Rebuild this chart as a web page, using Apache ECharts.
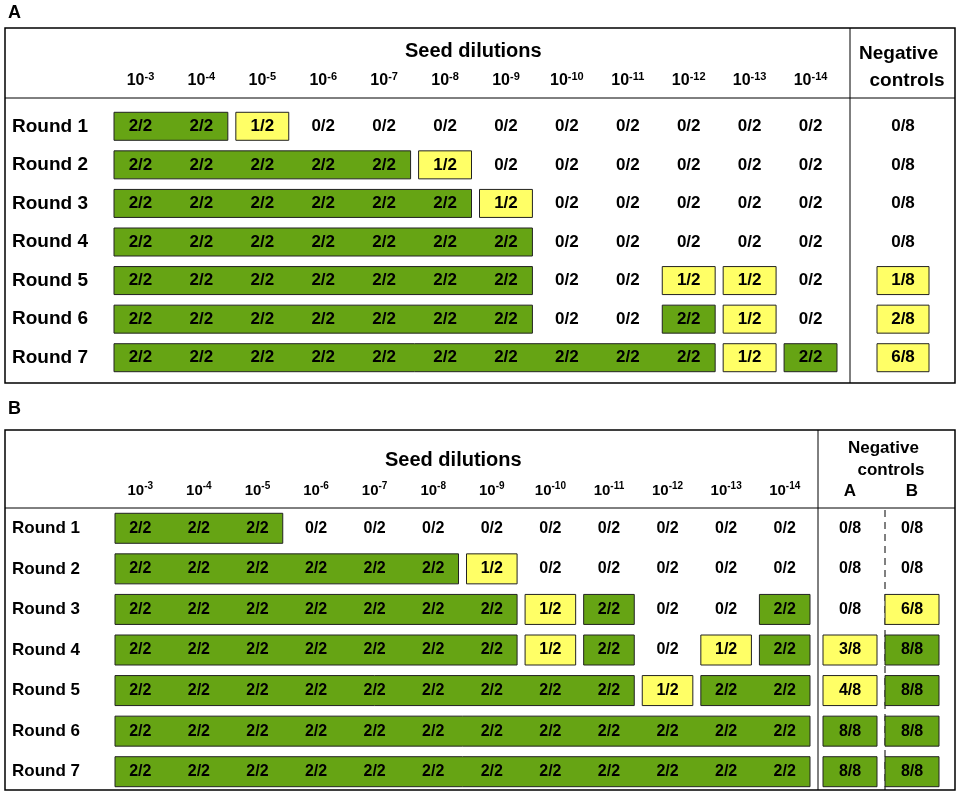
<!DOCTYPE html>
<html lang="en">
<head>
<meta charset="UTF-8">
<title>Seed dilutions</title>
<script src="https://cdn.jsdelivr.net/npm/echarts@6/dist/echarts.min.js"></script>
<style>
  html, body { margin: 0; padding: 0; background: #fff; }
  #chart { width: 961px; height: 800px; }
</style>
</head>
<body>
<div id="chart"></div>
<script>
const dilutions = ['-3','-4','-5','-6','-7','-8','-9','-10','-11','-12','-13','-14'];
const rounds = ['Round 1','Round 2','Round 3','Round 4','Round 5','Round 6','Round 7'];

// panel A: results per round (12 dilutions)
const valuesA = [
  ['2/2','2/2','1/2','0/2','0/2','0/2','0/2','0/2','0/2','0/2','0/2','0/2'],
  ['2/2','2/2','2/2','2/2','2/2','1/2','0/2','0/2','0/2','0/2','0/2','0/2'],
  ['2/2','2/2','2/2','2/2','2/2','2/2','1/2','0/2','0/2','0/2','0/2','0/2'],
  ['2/2','2/2','2/2','2/2','2/2','2/2','2/2','0/2','0/2','0/2','0/2','0/2'],
  ['2/2','2/2','2/2','2/2','2/2','2/2','2/2','0/2','0/2','1/2','1/2','0/2'],
  ['2/2','2/2','2/2','2/2','2/2','2/2','2/2','0/2','0/2','2/2','1/2','0/2'],
  ['2/2','2/2','2/2','2/2','2/2','2/2','2/2','2/2','2/2','2/2','1/2','2/2']
];
// boxes: [row, fromCol, toCol, kind] kind 0 = green, 1 = yellow
const boxesA = [
  [0,0,1,0],[0,2,2,1],
  [1,0,4,0],[1,5,5,1],
  [2,0,5,0],[2,6,6,1],
  [3,0,6,0],
  [4,0,6,0],[4,9,9,1],[4,10,10,1],
  [5,0,6,0],[5,9,9,0],[5,10,10,1],
  [6,0,9,0],[6,10,10,1],[6,11,11,0]
];
const negA = ['0/8','0/8','0/8','0/8','1/8','2/8','6/8'];
const negBoxesA = [[4,0,0,1],[5,0,0,1],[6,0,0,1]];

// panel B
const valuesB = [
  ['2/2','2/2','2/2','0/2','0/2','0/2','0/2','0/2','0/2','0/2','0/2','0/2'],
  ['2/2','2/2','2/2','2/2','2/2','2/2','1/2','0/2','0/2','0/2','0/2','0/2'],
  ['2/2','2/2','2/2','2/2','2/2','2/2','2/2','1/2','2/2','0/2','0/2','2/2'],
  ['2/2','2/2','2/2','2/2','2/2','2/2','2/2','1/2','2/2','0/2','1/2','2/2'],
  ['2/2','2/2','2/2','2/2','2/2','2/2','2/2','2/2','2/2','1/2','2/2','2/2'],
  ['2/2','2/2','2/2','2/2','2/2','2/2','2/2','2/2','2/2','2/2','2/2','2/2'],
  ['2/2','2/2','2/2','2/2','2/2','2/2','2/2','2/2','2/2','2/2','2/2','2/2']
];
const boxesB = [
  [0,0,2,0],
  [1,0,5,0],[1,6,6,1],
  [2,0,6,0],[2,7,7,1],[2,8,8,0],[2,11,11,0],
  [3,0,6,0],[3,7,7,1],[3,8,8,0],[3,10,10,1],[3,11,11,0],
  [4,0,8,0],[4,9,9,1],[4,10,11,0],
  [5,0,11,0],
  [6,0,11,0]
];
const negColsB = ['A','B'];
const negB = [
  ['0/8','0/8'],['0/8','0/8'],['0/8','6/8'],['3/8','8/8'],['4/8','8/8'],['8/8','8/8'],['8/8','8/8']
];
const negBoxesB = [
  [2,1,1,1],[3,0,0,1],[3,1,1,0],[4,0,0,1],[4,1,1,0],[5,0,0,0],[5,1,1,0],[6,0,0,0],[6,1,1,0]
];

const GREEN = '#66a414', YELLOW = '#ffff66';
const FONT = 'Liberation Sans, Arial, sans-serif';

function boxSeries(idx, data, h) {
  return {
    type: 'custom', xAxisIndex: idx, yAxisIndex: idx, data: data,
    encode: { x: [1, 2], y: 0 },
    renderItem: function (params, api) {
      const r = api.value(0), a = api.value(1), b = api.value(2);
      const p1 = api.coord([a, r]), p2 = api.coord([b, r]);
      const cw = api.size([1, 1])[0];
      const gap = Math.min(4, cw * 0.07);
      return {
        type: 'rect',
        shape: { x: p1[0] - cw / 2 + gap, y: p1[1] - h / 2, width: p2[0] - p1[0] + cw - 2 * gap, height: h },
        style: { fill: api.value(3) ? YELLOW : GREEN, stroke: '#222', lineWidth: 1 }
      };
    },
    z: 1
  };
}
function textSeries(idx, values, size) {
  const data = [];
  values.forEach((row, r) => {
    if (Array.isArray(row)) row.forEach((v, c) => data.push([c, r, v]));
    else data.push([0, r, row]);
  });
  return {
    type: 'scatter', xAxisIndex: idx, yAxisIndex: idx, data: data, symbolSize: 0,
    itemStyle: { opacity: 1 },
    label: { show: true, position: 'inside', formatter: p => p.data[2],
      fontFamily: FONT, fontWeight: 'bold', fontSize: size, color: '#000',
      textBorderWidth: 0, opacity: 1 },
    z: 3, silent: true
  };
}
function xAx(idx, cats, size, margin, sup) {
  return {
    type: 'category', gridIndex: idx, data: cats, position: 'top',
    axisLine: { show: false }, axisTick: { show: false },
    axisLabel: {
      margin: margin, interval: 0,
      formatter: sup ? (v => '{b|10}{s|' + v + '}') : (v => '{b|' + v + '}'),
      rich: {
        b: { fontFamily: FONT, fontWeight: 'bold', fontSize: size, color: '#000' },
        s: { fontFamily: FONT, fontWeight: 'bold', fontSize: size - 5, color: '#000', padding: [0, 0, 9, 0] }
      }
    }
  };
}
function yAx(idx, show, size, margin) {
  return {
    type: 'category', gridIndex: idx, data: rounds, inverse: true,
    axisLine: { show: false }, axisTick: { show: false },
    axisLabel: { show: show, align: 'left', margin: margin, fontFamily: FONT,
      fontWeight: 'bold', fontSize: size, color: '#000' }
  };
}
function ln(x1, y1, x2, y2, dash) {
  return { type: 'line', shape: { x1: x1, y1: y1, x2: x2, y2: y2 },
    style: { stroke: '#000', lineWidth: 1, lineDash: dash ? [7, 5] : null } };
}

const option = {
  animation: false,
  grid: [
    { left: 110, width: 731, top: 107, height: 270 },
    { left: 873, width: 60, top: 107, height: 270 },
    { left: 111, width: 703, top: 508, height: 284 },
    { left: 819, width: 124, top: 508, height: 284 }
  ],
  xAxis: [
    xAx(0, dilutions, 16, 16, true),
    xAx(1, [''], 16, 16, false),
    xAx(2, dilutions, 15, 8, true),
    xAx(3, negColsB, 17, 8, false)
  ],
  yAxis: [yAx(0, true, 19, 98), yAx(1, false), yAx(2, true, 17, 99), yAx(3, false)],
  series: [
    boxSeries(0, boxesA, 28), textSeries(0, valuesA, 17),
    boxSeries(1, negBoxesA, 28), textSeries(1, negA, 17),
    boxSeries(2, boxesB, 30), textSeries(2, valuesB, 16),
    boxSeries(3, negBoxesB, 30), textSeries(3, negB, 16)
  ],
  graphic: [
    { type: 'text', left: 8, top: 4, style: { text: 'A', fontFamily: FONT, fontWeight: 'bold', fontSize: 18, fill: '#000' } },
    { type: 'text', left: 8, top: 400, style: { text: 'B', fontFamily: FONT, fontWeight: 'bold', fontSize: 18, fill: '#000' } },
    { type: 'rect', shape: { x: 5, y: 28, width: 950, height: 355 }, style: { fill: 'none', stroke: '#000', lineWidth: 1.5 } },
    ln(5, 98, 955, 98), ln(850, 28, 850, 383),
    { type: 'text', left: 405, top: 41, style: { text: 'Seed dilutions', fontFamily: FONT, fontWeight: 'bold', fontSize: 20, fill: '#000' } },
    { type: 'text', left: 859, top: 40, style: { text: 'Negative\n  controls', fontFamily: FONT, fontWeight: 'bold', fontSize: 19, lineHeight: 27, fill: '#000' } },
    { type: 'rect', shape: { x: 5, y: 430, width: 950, height: 360 }, style: { fill: 'none', stroke: '#000', lineWidth: 1.5 } },
    ln(5, 508, 955, 508), ln(818, 430, 818, 790), ln(885, 510, 885, 790, true),
    { type: 'text', left: 385, top: 450, style: { text: 'Seed dilutions', fontFamily: FONT, fontWeight: 'bold', fontSize: 20, fill: '#000' } },
    { type: 'text', left: 848, top: 437, style: { text: 'Negative\n  controls', fontFamily: FONT, fontWeight: 'bold', fontSize: 17, lineHeight: 22, fill: '#000' } }
  ]
};
echarts.init(document.getElementById('chart')).setOption(option);
</script>
</body>
</html>
